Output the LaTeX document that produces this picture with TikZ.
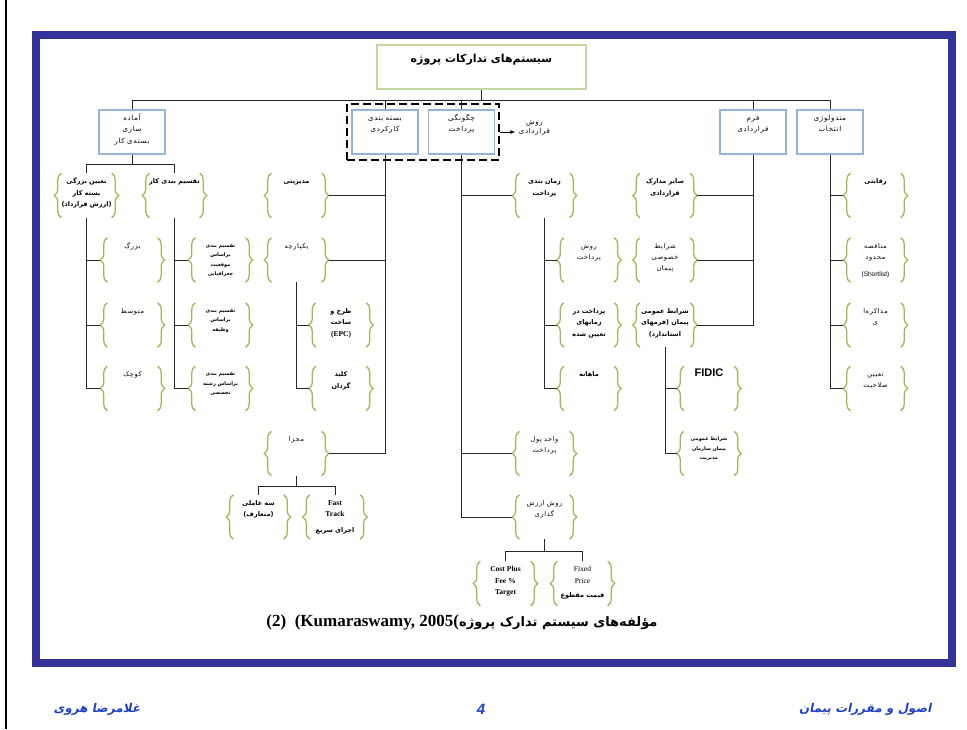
\documentclass[tikz,border=0pt]{standalone}
\usepackage{fontspec}
\setmainfont{Liberation Serif}
\newfontfamily\fa[Script=Arabic]{DejaVu Sans}
\newfontfamily\faw[Script=Arabic,LetterSpace=10]{DejaVu Sans}
\newfontfamily\footfa[Script=Arabic,FakeSlant=0.2]{DejaVu Sans}
\newfontfamily\arial{Liberation Sans}
\TeXXeTstate=1
\usetikzlibrary{arrows.meta, positioning, fit, decorations.pathreplacing}

\definecolor{frameblue}{RGB}{51,51,153}
\definecolor{boxblue}{RGB}{149,179,215}
\definecolor{titlegreen}{RGB}{195,214,155}
\definecolor{bracegreen}{RGB}{155,187,89}
\definecolor{footblue}{RGB}{31,64,196}

\newcommand\rl[1]{\beginR#1\endR}
\newcommand\lat{\rmfamily\bfseries\fontsize{7.5}{9}\selectfont}

\tikzset{
  wire/.style={draw=black!85, line width=1pt},
  titlebox/.style={draw=titlegreen, line width=1.6pt, text width=205pt, inner xsep=2pt, inner ysep=0pt,
    align=center, text height=17pt, text depth=27pt, font=\fa\bfseries\fontsize{11}{14}\selectfont},
  topbox/.style={draw=boxblue, line width=1.6pt, text width=62pt, inner xsep=2pt, inner ysep=0pt,
    align=center, text height=10pt, text depth=34pt, font=\faw\fontsize{7}{11.5}\selectfont},
  leaf/.style={text width=54pt, inner xsep=5pt, inner ysep=0pt, align=center, text height=10pt,
    text depth=34pt, font=\fa\bfseries\fontsize{6.5}{11.5}\selectfont},
  plainleaf/.style={leaf, font=\faw\fontsize{6.5}{11}\selectfont},
  smallleaf/.style={leaf, text height=9pt, text depth=35pt, font=\fa\bfseries\fontsize{5}{9.5}\selectfont},
  curly/.style={draw=bracegreen, line width=1.3pt, decorate, decoration={brace, amplitude=7pt}},
  dashbox/.style={draw, line width=2pt, dash pattern=on 8pt off 4pt, inner xsep=4pt, inner ysep=5pt},
}

\begin{document}
\begin{tikzpicture}[x=1pt, y=-1pt]
\useasboundingbox (0,0) rectangle (967,729);
% page edge and frame
\draw[line width=2.5pt] (6,0) -- (6,729);
\draw[frameblue, line width=7.5pt] (35.75,34.75) rectangle (952,662.75);

% top level
\node[titlebox] (title) at (481.5,67) {\rl{سیستم‌های تدارکات پروژه}};
\node[topbox] (A) at (132,132) {\rl{آماده}\\\rl{سازی}\\\rl{بسته‌ی کار}};
\node[topbox] (B) at (385,132) {\rl{بسته بندی}\\\rl{کارکردی}};
\node[topbox] (C) at (461.5,132) {\rl{چگونگی}\\\rl{پرداخت}};
\node[topbox] (D) at (753,132) {\rl{فرم}\\\rl{قراردادی}};
\node[topbox] (E) at (830,132) {\rl{متدولوژی}\\\rl{انتخاب}};
\node[dashbox, fit=(B)(C)] (BC) {};
\node[font=\faw\fontsize{7}{9.5}\selectfont, align=center, right=15pt of BC, yshift=4pt] (method) {\rl{روش}\\\rl{قراردادی}};

% work package
\node[leaf] (A1) at (86.5,195.5) {\rl{تعیین بزرگی}\\\rl{بسته کار}\\\rl{(ارزش قرارداد)}};
\node[leaf] (A2) at (174.5,195.5) {\rl{تقسیم بندی کار}};
\node[plainleaf] (A1a) at (132.5,260) {\rl{بزرگ}};
\node[plainleaf] (A1b) at (132.5,325) {\rl{متوسط}};
\node[plainleaf] (A1c) at (132.5,388.5) {\rl{کوچک}};
\node[smallleaf] (A2a) at (220.5,260) {\rl{تقسیم بندی}\\\rl{براساس}\\\rl{موقعیت}\\\rl{جغرافیایی}};
\node[smallleaf] (A2b) at (220.5,325) {\rl{تقسیم بندی}\\\rl{براساس}\\\rl{وظیفه}};
\node[smallleaf] (A2c) at (220.5,388.5) {\rl{تقسیم بندی}\\\rl{براساس رشته}\\\rl{تخصصی}};

% functional grouping
\node[leaf] (B1) at (296.5,195.5) {\rl{مدیریتی}};
\node[plainleaf] (B2) at (296.5,260) {\rl{یکپارچه}};
\node[plainleaf] (B3) at (296.5,453.5) {\rl{مجزا}};
\node[leaf] (B2a) at (341,325) {\rl{طرح و}\\\rl{ساخت}\\{\lat (EPC)}};
\node[leaf] (B2b) at (341,388.5) {\rl{کلید}\\\rl{گردان}};
\node[leaf] (B3a) at (258.5,517) {\rl{سه عاملی}\\\rl{(متعارف)}};
\node[leaf] (B3b) at (335,517) {{\lat Fast}\\{\lat Track}\\[4pt]\rl{اجرای سریع}};

% payment
\node[leaf] (C1) at (544.5,195.5) {\rl{زمان بندی}\\\rl{پرداخت}};
\node[plainleaf] (C2) at (544.5,453.5) {\rl{واحد پول}\\\rl{پرداخت}};
\node[plainleaf] (C3) at (544.5,517) {\rl{روش ارزش}\\\rl{گذاری}};
\node[plainleaf] (C1a) at (589,260) {\rl{روش}\\\rl{پرداخت}};
\node[leaf] (C1b) at (589,325) {\rl{پرداخت در}\\\rl{زمانهای}\\\rl{تعیین شده}};
\node[leaf] (C1c) at (589,388.5) {\rl{ماهانه}};
\node[leaf] (C3a) at (505.5,583.5) {{\lat Cost Plus}\\{\lat Fee \%}\\{\lat Target}};
\node[leaf] (C3b) at (582.5,583.5) {{\lat\mdseries Fixed}\\{\lat\mdseries Price}\\[3pt]\rl{قیمت مقطوع}};

% contract form
\node[leaf] (D1) at (665,195.5) {\rl{سایر مدارک}\\\rl{قراردادی}};
\node[plainleaf] (D2) at (665,260) {\rl{شرایط}\\\rl{خصوصی}\\\rl{پیمان}};
\node[leaf] (D3) at (665,325) {\rl{شرایط عمومی}\\\rl{پیمان (فرمهای}\\\rl{استاندارد)}};
\node[leaf] (D3a) at (709,388.5) {{\arial\bfseries\fontsize{11}{12}\selectfont FIDIC}};
\node[smallleaf] (D3b) at (709,453.5) {\rl{شرایط عمومی}\\\rl{پیمان سازمان}\\\rl{مدیریت}};

% selection
\node[leaf] (E1) at (875.5,195.5) {\rl{رقابتی}};
\node[plainleaf] (E2) at (875.5,260) {\rl{مناقصه}\\\rl{محدود}\\[6pt]{\arial (Shortlist)}};
\node[plainleaf] (E3) at (875.5,325) {\rl{مذاکره‌ا}\\\rl{ی}};
\node[plainleaf] (E4) at (875.5,388.5) {\rl{تعیین}\\\rl{صلاحیت}};

% braces
\foreach \n in {A1,A2,A1a,A1b,A1c,A2a,A2b,A2c,B1,B2,B3,B2a,B2b,B3a,B3b,
                C1,C2,C3,C1a,C1b,C1c,C3a,C3b,D1,D2,D3,D3a,D3b,E1,E2,E3,E4} {
    \draw[curly] ([xshift=7pt]\n.south west) -- ([xshift=7pt]\n.north west);
    \draw[curly] ([xshift=-7pt]\n.north east) -- ([xshift=-7pt]\n.south east);
}

% bus
\draw[wire] (title.south) -- ++(0,10.5) coordinate (bus);
\draw[wire] (A.north) |- (bus) -| (E.north);
\foreach \k in {B,C,D} \draw[wire] (\k.north) -- (\k.north |- bus);
\draw[-{Latex[length=5pt,width=4pt]}, line width=0.8pt] (BC.east) -- (method.west |- BC.east);

% tree A
\draw[wire] (A.south) -- ++(0,10) coordinate (Aj);
\draw[wire] (A1.north) |- (Aj) -| (A2.north);
\draw[wire] (A1.south) |- (A1c.west);
\draw[wire] (A2.south) |- (A2c.west);
\foreach \k in {A1a,A1b} \draw[wire] (A1.south |- \k.west) -- (\k.west);
\foreach \k in {A2a,A2b} \draw[wire] (A2.south |- \k.west) -- (\k.west);

% tree B
\draw[wire] (B.south) |- (B3.east);
\foreach \k in {B1,B2} \draw[wire] (\k.east) -- (\k.east -| B.south);
\draw[wire] (B2.south) |- (B2b.west);
\draw[wire] (B2.south |- B2a.west) -- (B2a.west);
\draw[wire] (B3.south) -- ++(0,11) coordinate (Bj);
\draw[wire] (B3a.north) |- (Bj) -| (B3b.north);

% tree C
\draw[wire] (C.south) |- (C3.west);
\foreach \k in {C1,C2} \draw[wire] (\k.west -| C.south) -- (\k.west);
\draw[wire] (C1.south) |- (C1c.west);
\foreach \k in {C1a,C1b} \draw[wire] (C1.south |- \k.west) -- (\k.west);
\draw[wire] (C3.south) -- ++(0,12) coordinate (Cj);
\draw[wire] (C3a.north) |- (Cj) -| (C3b.north);

% tree D
\draw[wire] (D.south) |- (D3.east);
\foreach \k in {D1,D2} \draw[wire] (\k.east) -- (\k.east -| D.south);
\draw[wire] (D3.south) |- (D3b.west);
\draw[wire] (D3.south |- D3a.west) -- (D3a.west);

% tree E
\draw[wire] (E.south) |- (E4.west);
\foreach \k in {E1,E2,E3} \draw[wire] (\k.west -| E.south) -- (\k.west);

% caption and footer
\node[font=\bfseries\fontsize{17}{20}\selectfont] (caption) at (462,622)
    {(2)\ \ (Kumaraswamy, 2005({\fa\fontsize{13}{16}\selectfont\rl{مؤلفه‌های سیستم تدارک پروژه}}};
\node[font=\footfa\bfseries\fontsize{12}{14}\selectfont, text=footblue, anchor=east] (course) at (935,709) {\rl{اصول و مقررات پیمان}};
\node[font=\arial\bfseries\itshape\fontsize{15}{17}\selectfont, text=footblue] (page) at (481,709) {4};
\node[font=\footfa\bfseries\fontsize{12}{14}\selectfont, text=footblue, anchor=west] (author) at (50,709) {\rl{غلامرضا هروی}};
\end{tikzpicture}
\end{document}
